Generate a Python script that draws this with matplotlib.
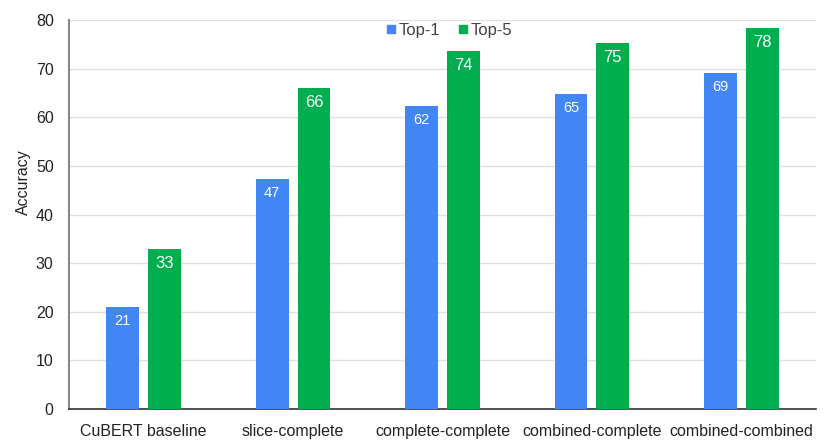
import numpy as np
import matplotlib.pyplot as plt
from matplotlib.lines import Line2D

plt.rcParams['font.family'] = ['Liberation Sans', 'DejaVu Sans']

# -------------------------------------------------------------
# Data
# -------------------------------------------------------------
categories = ['CuBERT baseline', 'slice-complete', 'complete-complete',
              'combined-complete', 'combined-combined']
top1 = [21.0, 47.3, 62.3, 64.8, 69.1]
top5 = [32.9, 66.0, 73.7, 75.3, 78.4]
top1_labels = ['21', '47', '62', '65', '69']
top5_labels = ['33', '66', '74', '75', '78']

c_top1 = '#4285f4'
c_top5 = '#00ad4f'

# -------------------------------------------------------------
# Figure
# -------------------------------------------------------------
fig = plt.figure(figsize=(8.3, 4.46), dpi=100)
ax = fig.add_axes([0.0831, 0.083, 0.9, 0.872])

x = np.arange(len(categories))
w = 0.22
off = 0.14
b1 = ax.bar(x - off, top1, w, color=c_top1, zorder=3)
b2 = ax.bar(x + off, top5, w, color=c_top5, zorder=3)

for rect, lab in zip(b1, top1_labels):
    ax.text(rect.get_x() + rect.get_width() / 2, rect.get_height() - 1.4, lab,
            ha='center', va='top', color='white', fontsize=10.5, zorder=4)
for rect, lab in zip(b2, top5_labels):
    ax.text(rect.get_x() + rect.get_width() / 2, rect.get_height() - 1.4, lab,
            ha='center', va='top', color='white', fontsize=12, zorder=4)

ax.set_xlim(-0.5, len(categories) - 0.5)
ax.set_ylim(0, 80)
ax.set_yticks(np.arange(0, 81, 10))
ax.set_xticks(x)
ax.set_xticklabels(categories, fontsize=11.5, color='#222222')
ax.tick_params(axis='y', labelsize=11.5, labelcolor='#222222', length=0, pad=11)
ax.tick_params(axis='x', length=0, pad=11)
ax.grid(axis='y', color='#e0e0e0', linewidth=1, zorder=0)
ax.set_axisbelow(True)

for s in ['top', 'right']:
    ax.spines[s].set_visible(False)
ax.spines['left'].set_color('#888888')
ax.spines['left'].set_linewidth(1.5)
ax.spines['bottom'].set_color('#333333')
ax.spines['bottom'].set_linewidth(1.2)

ax.set_ylabel('Accuracy', fontsize=11.5, color='#222222')
ax.yaxis.set_label_coords(-0.051, 0.584)

handles = [Line2D([], [], marker='s', linestyle='none', color=c_top1, markersize=5.5),
           Line2D([], [], marker='s', linestyle='none', color=c_top5, markersize=5.5)]
ax.legend(handles, ['Top-1', 'Top-5'], loc='center', bbox_to_anchor=(0.508, 0.974),
          ncol=2, frameon=False, fontsize=12, labelcolor='#444444',
          handletextpad=0.05, columnspacing=1.0, handlelength=0.8,
          borderpad=0, borderaxespad=0)

fig.savefig('out.png', dpi=100)
